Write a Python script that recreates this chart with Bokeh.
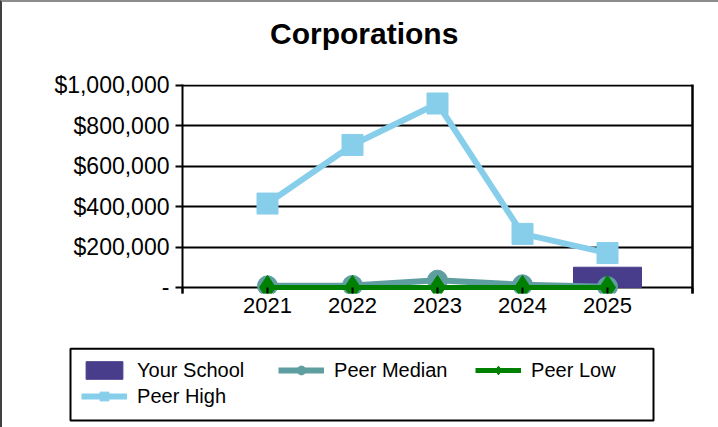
from bokeh.plotting import figure
from bokeh.layouts import column
from bokeh.models import (Range1d, FixedTicker, Legend, LegendItem, LinearAxis, Grid,
                          Label, BoxAnnotation, InlineStyleSheet)
from bokeh.embed import file_html
from bokeh.resources import INLINE

# ---- data ----
years = ["2021", "2022", "2023", "2024", "2025"]
your_school = [float("nan"), float("nan"), float("nan"), float("nan"), 100000]
peer_median = [8000, 10000, 36000, 13000, 4000]
peer_low = [0, 0, 0, 0, 0]
peer_high = [415000, 705000, 910000, 265000, 170000]
y_ticks = [0, 200000, 400000, 600000, 800000, 1000000]
y_labels = ["-", "$200,000", "$400,000", "$600,000", "$800,000", "$1,000,000"]
title_text = "Corporations"

# ---- styles ----
C_SCHOOL = "#483D8B"
C_MEDIAN = "#5F9EA0"
C_LOW = "#008000"
C_HIGH = "#87CEEB"
FONT = "Liberation Sans"
W = 718

xs = list(range(1, len(years) + 1))


def blank_fig(height):
    f = figure(width=W, height=height, output_backend="svg", toolbar_location=None,
               x_range=Range1d(0, 1), y_range=Range1d(0, 1),
               x_axis_type=None, y_axis_type=None,
               min_border_left=0, min_border_right=0,
               min_border_top=0, min_border_bottom=0)
    f.frame_align = False
    f.outline_line_color = None
    f.xgrid.grid_line_color = None
    f.ygrid.grid_line_color = None
    return f


# ---- title strip ----
pt = blank_fig(60)
pt.add_layout(Label(x=363.7, y=27.5, x_units="screen", y_units="screen",
                    text=title_text, text_align="center", text_baseline="alphabetic",
                    text_font=FONT, text_font_size="30px", text_font_style="bold",
                    text_color="black"))

# ---- main chart ----
p = figure(width=W, height=280, output_backend="svg", toolbar_location=None,
           x_range=Range1d(0, len(years) + 1),
           y_range=Range1d(-30000, 1004000),
           min_border_left=182, min_border_right=26,
           min_border_top=24, min_border_bottom=47,
           x_axis_type=None, y_axis_type=None)
p.frame_align = False
p.outline_line_color = None

xaxis = LinearAxis(ticker=FixedTicker(ticks=list(range(0, len(years) + 2))))
xaxis.major_label_overrides = {0: "", len(years) + 1: "", **{i + 1: y for i, y in enumerate(years)}}
xaxis.axis_line_color = None
xaxis.major_tick_line_color = "black"
xaxis.major_tick_line_width = 2
xaxis.major_tick_out = 0
xaxis.major_tick_in = 6
xaxis.minor_tick_line_color = None
xaxis.major_label_text_font = FONT
xaxis.major_label_text_font_size = "22px"
xaxis.major_label_text_color = "black"
xaxis.major_label_standoff = 4
p.add_layout(xaxis, "below")

yaxis = LinearAxis(ticker=FixedTicker(ticks=y_ticks))
yaxis.major_label_overrides = {t: l for t, l in zip(y_ticks, y_labels)}
yaxis.axis_line_color = "black"
yaxis.axis_line_width = 2
yaxis.major_tick_line_color = "black"
yaxis.major_tick_line_width = 2
yaxis.major_tick_out = 7
yaxis.major_tick_in = 0
yaxis.minor_tick_line_color = None
yaxis.major_label_text_font = FONT
yaxis.major_label_text_font_size = "23px"
yaxis.major_label_text_color = "black"
yaxis.major_label_standoff = 6
p.add_layout(yaxis, "left")

raxis = LinearAxis(ticker=FixedTicker(ticks=[]))
raxis.axis_line_color = "black"
raxis.axis_line_width = 2.5
raxis.major_label_text_font_size = "0px"
raxis.minor_tick_line_color = None
p.add_layout(raxis, "right")

p.add_layout(Grid(dimension=1, ticker=FixedTicker(ticks=y_ticks),
                  grid_line_color="black", grid_line_width=2))

p.vbar(x=xs, top=your_school, width=0.8, fill_color=C_SCHOOL, line_color=C_SCHOOL)
p.line(xs, peer_high, line_color=C_HIGH, line_width=6)
p.scatter(xs, peer_high, marker="square", size=21, color=C_HIGH)
p.line(xs, peer_median, line_color=C_MEDIAN, line_width=6)
p.scatter(xs, peer_median, marker="circle", size=20, color=C_MEDIAN)
p.line(xs, peer_low, line_color=C_LOW, line_width=5)
p.scatter(xs, peer_low, marker="diamond", size=24, color=C_LOW)

# ---- legend strip (legend keys only, no data) ----
pl = blank_fig(87)
nan = [float("nan")]
l_bar = pl.vbar(x=nan, top=nan, width=0.5, fill_color=C_SCHOOL, line_color=C_SCHOOL)
l_md_l = pl.line(nan, nan, line_color=C_MEDIAN, line_width=6)
l_md_m = pl.scatter(nan, nan, marker="circle", size=10, color=C_MEDIAN)
l_lo_l = pl.line(nan, nan, line_color=C_LOW, line_width=5)
l_lo_m = pl.scatter(nan, nan, marker="diamond", size=10, color=C_LOW)
l_hi_l = pl.line(nan, nan, line_color=C_HIGH, line_width=6)
l_hi_m = pl.scatter(nan, nan, marker="square", size=10, color=C_HIGH)

legend = Legend(items=[
    LegendItem(label="Your School", renderers=[l_bar]),
    LegendItem(label="Peer Median", renderers=[l_md_l, l_md_m]),
    LegendItem(label="Peer Low", renderers=[l_lo_l, l_lo_m]),
    LegendItem(label="Peer High", renderers=[l_hi_l, l_hi_m]),
], location=(67.1, 5.5), orientation="horizontal", ncols=3)
legend.label_text_font = FONT
legend.label_text_font_size = "20px"
legend.label_text_color = "black"
legend.label_height = 20
legend.label_width = 138
legend.glyph_height = 22
legend.glyph_width = 46
legend.label_standoff = 10
legend.spacing = 3
legend.padding = 14
legend.margin = 0
legend.border_line_alpha = 0
legend.background_fill_alpha = 0
pl.add_layout(legend, "center")

pl.add_layout(BoxAnnotation(left=70, right=653, top=8.3, bottom=80,
                            left_units="canvas", right_units="canvas",
                            top_units="canvas", bottom_units="canvas",
                            fill_alpha=0, line_color="black", line_alpha=1.0,
                            line_width=2))

frame_css = InlineStyleSheet(css=(
    ":host { position: relative; }"
    ":host::after { content: ''; position: absolute; left: 0; top: 0; right: 0; bottom: 0;"
    " border-top: 2px solid #8c8c8c; border-left: 2px solid #404040;"
    " pointer-events: none; z-index: 100; }"
))

layout = column(pt, p, pl, spacing=0, stylesheets=[frame_css])
open("out.html", "w").write(file_html(layout, INLINE))
